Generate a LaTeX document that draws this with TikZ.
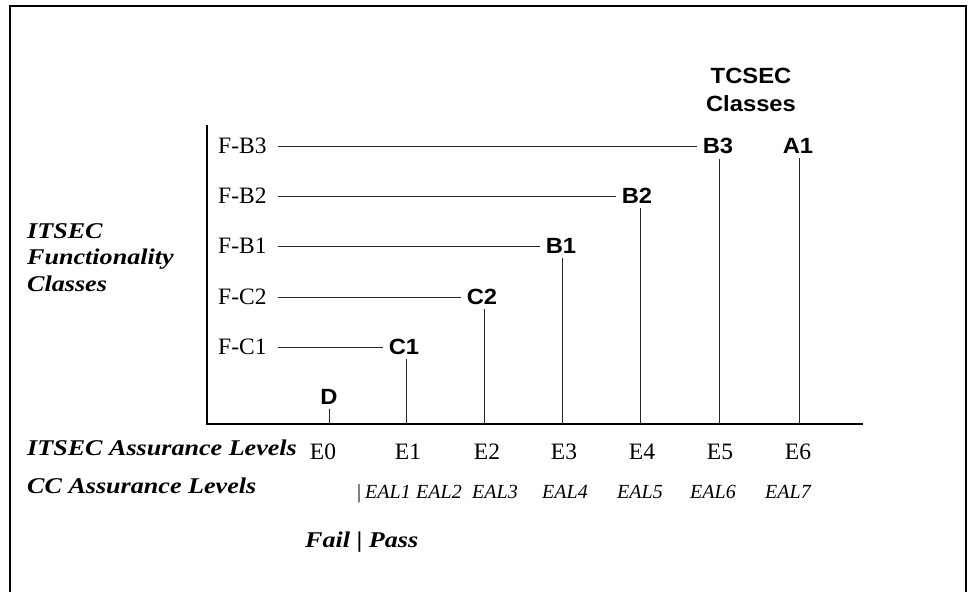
\documentclass[tikz,border=0pt]{standalone}
\usepackage{fontspec}
\setmainfont{Liberation Serif}
\newfontfamily\lblfont[FakeStretch=1.08]{Liberation Sans}
\newfontfamily\bifont[FakeStretch=1.16]{Liberation Serif}
\begin{document}
\begin{tikzpicture}[x=1pt,y=-1pt,
  lbl/.style={font=\lblfont\bfseries\fontsize{22}{28}\selectfont, inner xsep=6pt, inner ysep=4.5pt},
  rowlbl/.style={font=\fontsize{23.5}{27}\selectfont, inner sep=0pt, anchor=west},
  axlbl/.style={font=\fontsize{23.5}{27}\selectfont, inner sep=0pt, anchor=base},
  eal/.style={font=\itshape\fontsize{20}{23}\selectfont, inner sep=0pt, anchor=base},
  ttl/.style={font=\bifont\bfseries\itshape\fontsize{22.5}{26.5}\selectfont, inner sep=0pt},
  conn/.style={line width=0.95pt, draw=black!85},
  axisline/.style={line width=2.2pt},
  frameline/.style={line width=2.2pt}]

\useasboundingbox (0,0) rectangle (970,592);
\draw[frameline] (10,600) -- (10,6) -- (966,6) -- (966,600);

% axes
\coordinate (origin) at (207,424);
\coordinate (ytop) at (207,125);
\coordinate (xend) at (863,424);
\draw[axisline] (ytop) -- (origin) -- (xend);

% functionality rows
\node[rowlbl] (fb3) at (218,146) {F-B3};
\node[rowlbl] (fb2) at (218,196) {F-B2};
\node[rowlbl] (fb1) at (218,246) {F-B1};
\node[rowlbl] (fc2) at (218,297) {F-C2};
\node[rowlbl] (fc1) at (218,347) {F-C1};

% TCSEC class labels
\node[lbl] (b3) at (718,146) {B3};
\node[lbl] (a1) at (798,146) {A1};
\node[lbl] (b2) at (637,196) {B2};
\node[lbl] (b1) at (561,246) {B1};
\node[lbl] (c2) at (482,297) {C2};
\node[lbl] (c1) at (404,347) {C1};
\node[lbl] (d)  at (329,397) {D};

% horizontal connectors
\draw[conn] ([xshift=60pt]fb3.west) -- (b3.west);
\draw[conn] ([xshift=60pt]fb2.west) -- (b2.west);
\draw[conn] ([xshift=60pt]fb1.west) -- (b1.west);
\draw[conn] ([xshift=60pt]fc2.west) -- (c2.west);
\draw[conn] ([xshift=60pt]fc1.west) -- (c1.west);

% ticks on axis
\coordinate (td)  at (329,424);
\coordinate (tc1) at (406,424);
\coordinate (tc2) at (484,424);
\coordinate (tb1) at (562,424);
\coordinate (tb2) at (640,424);
\coordinate (tb3) at (719,424);
\coordinate (ta1) at (799,424);
\draw[conn] (td)  -- (td  |- d.south);
\draw[conn] (tc1) -- (tc1 |- c1.south);
\draw[conn] (tc2) -- (tc2 |- c2.south);
\draw[conn] (tb1) -- (tb1 |- b1.south);
\draw[conn] (tb2) -- (tb2 |- b2.south);
\draw[conn] (tb3) -- (tb3 |- b3.south);
\draw[conn] (ta1) -- (ta1 |- a1.south);

% TCSEC title
\node[lbl, align=center, anchor=north] (tcsec) at (751,63.5) {TCSEC\\Classes};

% left titles
\node[ttl, anchor=north west, align=left] (itfc) at (27,223) {ITSEC\\Functionality\\Classes};
\node[ttl, anchor=base west] (itas) at (27,455) {ITSEC Assurance Levels};
\node[ttl, anchor=base west] (ccas) at (27,493) {CC Assurance Levels};
\node[ttl, anchor=base west] (fp) at (305,547) {Fail {\upshape|} Pass};

% ITSEC assurance levels
\node[axlbl] (e0) at (323,459) {E0};
\node[axlbl] (e1) at (408,459) {E1};
\node[axlbl] (e2) at (487,459) {E2};
\node[axlbl] (e3) at (564,459) {E3};
\node[axlbl] (e4) at (642,459) {E4};
\node[axlbl] (e5) at (720,459) {E5};
\node[axlbl] (e6) at (798,459) {E6};

% CC assurance levels
\node[eal, font=\upshape\fontsize{20}{23}\selectfont] (bar) at (359,498) {|};
\node[eal] (eal1) at (388,498) {EAL1};
\node[eal] (eal2) at (439,498) {EAL2};
\node[eal] (eal3) at (495,498) {EAL3};
\node[eal] (eal4) at (565,498) {EAL4};
\node[eal] (eal5) at (640,498) {EAL5};
\node[eal] (eal6) at (713,498) {EAL6};
\node[eal] (eal7) at (788,498) {EAL7};
\end{tikzpicture}
\end{document}
